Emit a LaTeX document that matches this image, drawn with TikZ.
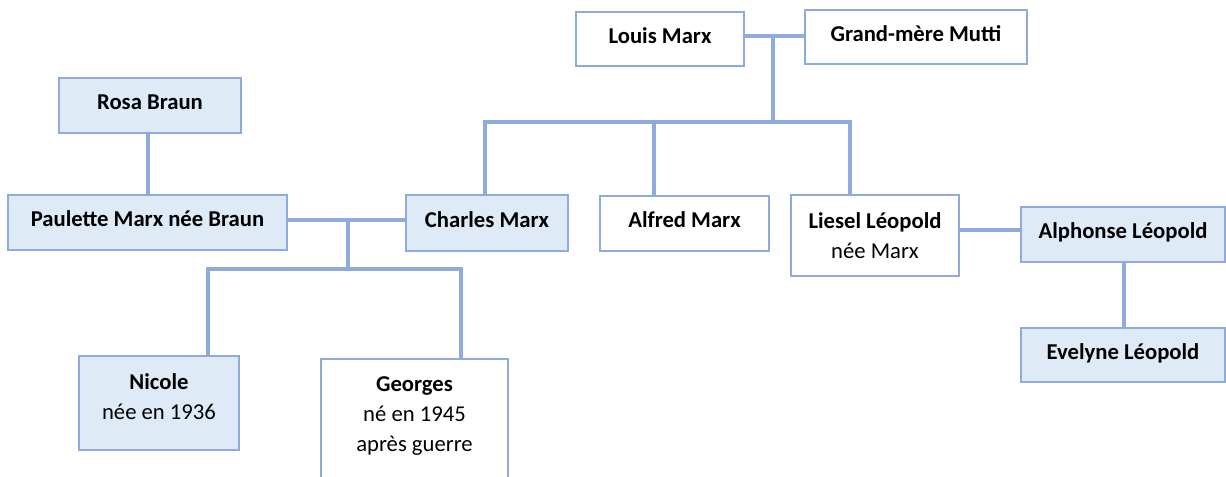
\documentclass[tikz,border=0pt]{standalone}
\usepackage{fontspec}
\setmainfont{Carlito}
\definecolor{linkblue}{HTML}{8FAADC}
\definecolor{boxfill}{HTML}{DEEAF6}
\tikzset{
  x=0.75pt, y=-0.75pt,
  person/.style={draw=linkblue, line width=1.5pt, fill=white, align=center,
    inner sep=0pt, font=\fontsize{17}{22.5}\selectfont},
  blood/.style={person, fill=boxfill},
  oneline/.style={text height=10pt, text depth=4pt},
  link/.style={draw=linkblue, line width=3pt},
}
\begin{document}
\begin{tikzpicture}
\useasboundingbox (0,0) rectangle (1226,476);
\clip (0,0) rectangle (1226,476);

% family members
\node[person, oneline, minimum width=126pt, minimum height=40.5pt] (louis) at (660,39) {\textbf{Louis Marx}};
\node[person, oneline, minimum width=166.5pt, minimum height=40.5pt] (mutti) at (916,37) {\textbf{Grand-mère Mutti}};
\node[blood, oneline, minimum width=136.5pt, minimum height=41.25pt] (rosa) at (150,105.5) {\textbf{Rosa Braun}};
\node[blood, oneline, minimum width=209.25pt, minimum height=41.25pt] (paulette) at (147.5,222.5) {\textbf{Paulette Marx née Braun}};
\node[blood, oneline, minimum width=121.5pt, minimum height=42pt] (charles) at (487,223) {\textbf{Charles Marx}};
\node[person, oneline, minimum width=126.75pt, minimum height=41.25pt] (alfred) at (684.5,223.5) {\textbf{Alfred Marx}};
\node[person, minimum width=126pt, minimum height=60.75pt] (liesel) at (875,235.5) {\textbf{Liesel Léopold}\\née Marx};
\node[blood, oneline, minimum width=153pt, minimum height=41.25pt] (alphonse) at (1123,234.5) {\textbf{Alphonse Léopold}};
\node[blood, oneline, minimum width=153pt, minimum height=40.5pt] (evelyne) at (1123,355) {\textbf{Evelyne Léopold}};
\node[blood, minimum width=120pt, minimum height=70.5pt, text depth=9pt] (nicole) at (159,403) {\textbf{Nicole}\\née en 1936};
\node[person, minimum width=140.25pt, minimum height=93pt, text depth=11pt, anchor=north] (georges) at (414.5,358) {\textbf{Georges}\\né en 1945\\après guerre};

% junction points
\coordinate (top) at (773,36);
\coordinate (dC) at (485,122);
\coordinate (dA) at (654,122);
\coordinate (dL) at (850,122);
\coordinate (mid) at (348,220);
\coordinate (dN) at (208,269);
\coordinate (dG) at (461,269);

% Louis Marx and Grand-mère Mutti, and their children
\draw[link] (louis.east |- top) -- (mutti.west |- top);
\draw[link] (top) -- (top |- dC);
\draw[link] (dC |- charles.north) -- (dC) -- (dL) -- (dL |- liesel.north);
\draw[link] (dA) -- (dA |- alfred.north);

% Braun side
\draw[link] (rosa.south -| 148,0) -- (paulette.north -| 148,0);
\draw[link] (paulette.east |- mid) -- (charles.west |- mid);
\draw[link] (mid) -- (mid |- dN);
\draw[link] (dN |- nicole.north) -- (dN) -- (dG) -- (dG |- georges.north);

% Léopold side
\draw[link] (liesel.east |- 0,230) -- (alphonse.west |- 0,230);
\draw[link] (alphonse.south -| 1124,0) -- (evelyne.north -| 1124,0);
\end{tikzpicture}
\end{document}
